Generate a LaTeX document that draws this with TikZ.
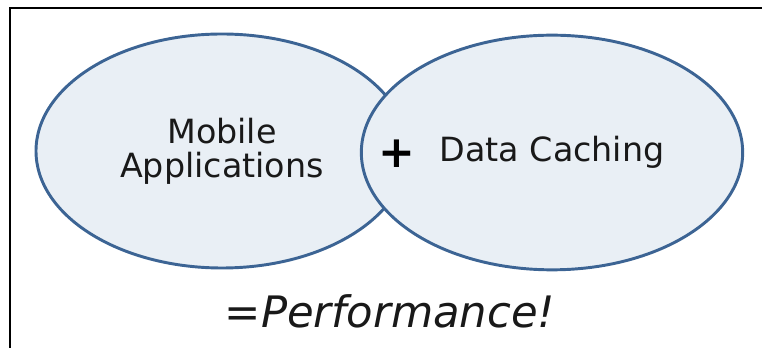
\documentclass[tikz,border=0pt]{standalone}
\usepackage{fontspec}
\setmainfont{DejaVu Sans}
\usetikzlibrary{shapes.geometric}
\definecolor{bubblefill}{RGB}{233,239,245}
\definecolor{bubbleline}{RGB}{60,100,148}
\tikzset{
  bubble/.style={ellipse,draw=bubbleline,fill=bubblefill,line width=2.2pt,
    inner sep=0pt,align=center,text=black!90,font=\fontsize{25}{22.5}\selectfont},
}
\begin{document}
\begin{tikzpicture}[x=0.75pt,y=-0.75pt]
\useasboundingbox(0,0) rectangle (762,348);
\draw[line width=2.2pt](10,348)--(10,8)--(762,8);
\node[bubble,minimum width=279pt,minimum height=175.5pt](mobile) at (222,151){Mobile\\[3pt]Applications};
\node[bubble,minimum width=286pt,minimum height=176pt](caching) at (552,152.5){Data Caching};
\node[font=\bfseries\fontsize{33}{33}\selectfont](plus) at (397,154){+};
\node[font=\itshape\fontsize{32.5}{32.5}\selectfont,text=black!90](result) at (390,311){=Performance!};
\end{tikzpicture}
\end{document}
